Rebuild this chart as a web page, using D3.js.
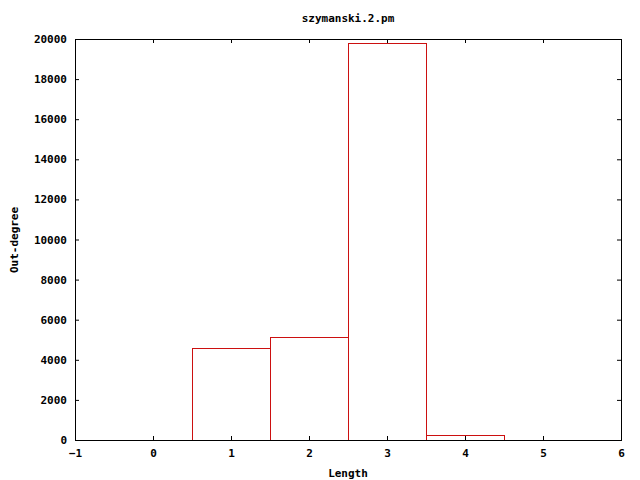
<!DOCTYPE html>
<html><head><meta charset="utf-8">
<script src="https://cdn.jsdelivr.net/npm/d3@7"></script>
<style>body{margin:0;background:#fff}svg{display:block}text{font-family:"DejaVu Sans Mono","Liberation Mono",monospace;font-weight:bold;font-size:11px;fill:#000}</style>
</head><body>
<script>
const title = "szymanski.2.pm";
const xLabel = "Length";
const yLabel = "Out-degree";
const lengths = [1, 2, 3, 4];
const outDegree = [4580, 5140, 19790, 250];
const xTicks = [-1, 0, 1, 2, 3, 4, 5, 6];
const yTicks = [0, 2000, 4000, 6000, 8000, 10000, 12000, 14000, 16000, 18000, 20000];

(function(){
const W = 640, H = 480;
const m = {l: 75, r: 19, t: 39, b: 40};
const svg = d3.select("body").append("svg").attr("width", W).attr("height", H);
const x = d3.scaleLinear().domain([-1, 6]).range([m.l, W - m.r]);
const y = d3.scaleLinear().domain([0, 20000]).range([H - m.b, m.t]);
const tl = 4;

// bars
svg.append("g").selectAll("rect").data(lengths).join("rect")
  .attr("x", d => x(d - 0.5) + 0.5)
  .attr("width", d => x(d + 0.5) - x(d - 0.5))
  .attr("y", (d, i) => Math.round(y(outDegree[i])) + 0.5)
  .attr("height", (d, i) => y(0) - Math.round(y(outDegree[i])))
  .attr("fill", "none").attr("stroke", "#cc1010").attr("stroke-width", 1);

// axes
const ax = svg.append("g");
const axBottom = d3.axisBottom(x).tickValues(xTicks).tickSize(-tl).tickPadding(9).tickFormat(d3.format("d"));
const axTop = d3.axisTop(x).tickValues(xTicks).tickSize(-tl).tickFormat("");
const axLeft = d3.axisLeft(y).tickValues(yTicks).tickSize(-tl).tickPadding(8).tickFormat(d3.format("d"));
const axRight = d3.axisRight(y).tickValues(yTicks).tickSize(-tl).tickFormat("");
function style(g){ g.select(".domain").remove(); g.selectAll("line").attr("stroke","#000"); g.selectAll("text").attr("font-family",null).attr("font-size",null).attr("fill",null); }
ax.append("g").attr("transform", `translate(0,${H - m.b})`).call(axBottom).call(style);
ax.append("g").attr("transform", `translate(0,${m.t})`).call(axTop).call(style);
ax.append("g").attr("transform", `translate(${m.l},0)`).call(axLeft).call(style);
ax.append("g").attr("transform", `translate(${W - m.r},0)`).call(axRight).call(style);
svg.append("rect").attr("x", m.l + 0.5).attr("y", m.t + 0.5).attr("width", W - m.r - m.l).attr("height", H - m.b - m.t)
  .attr("fill", "none").attr("stroke", "#000");

svg.append("text").attr("x", 348).attr("y", 22).attr("text-anchor", "middle").text(title);
svg.append("text").attr("x", 348).attr("y", 477).attr("text-anchor", "middle").text(xLabel);
svg.append("text").attr("transform", "translate(18,240) rotate(-90)").attr("text-anchor", "middle").text(yLabel);
})();
</script>
</body></html>
